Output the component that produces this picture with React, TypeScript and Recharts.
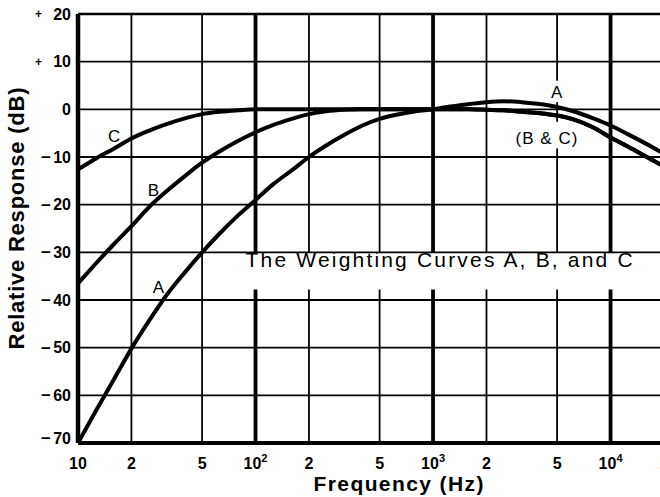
import React from 'react';
import { ComposedChart, Line, XAxis, YAxis, ReferenceLine, ReferenceDot } from 'recharts';

// Third-octave centre frequencies (Hz)
const frequencies = [
  10, 12.5, 16, 20, 25, 31.5, 40, 50, 63, 80,
  100, 125, 160, 200, 250, 315, 400, 500, 630, 800,
  1000, 1250, 1600, 2000, 2500, 3150, 4000, 5000, 6300, 8000,
  10000, 12500, 16000, 20000,
];

// Relative response (dB) of each weighting curve
const curveA = [
  -70, -63.5, -56.5, -50.2, -44.5, -39, -34.2, -30, -26, -22.2,
  -19, -15.8, -12.8, -10, -7.6, -5.4, -3.4, -2, -1.1, -0.4,
  0, 0.6, 1.1, 1.5, 1.7, 1.5, 1.1, 0.5, -0.5, -1.9,
  -3.4, -5.2, -7.3, -9.3,
];
const curveB = [
  -36.5, -32.5, -28.2, -24.5, -20.6, -17.2, -14, -11.2, -8.8, -6.6,
  -4.8, -3.3, -2, -1, -0.4, -0.1, 0, 0, 0, 0,
  0, 0, 0, -0.1, -0.2, -0.5, -0.8, -1.3, -2.2, -3.8,
  -5.9, -7.8, -10, -12,
];
const curveC = [
  -12.6, -10.4, -8.2, -6.1, -4.5, -3.1, -1.9, -1, -0.5, -0.2,
  0, 0, 0, 0, 0, 0, 0, 0, 0, 0,
  0, 0, 0, -0.1, -0.2, -0.5, -0.8, -1.3, -2.2, -3.8,
  -5.9, -7.8, -10, -12,
];

// Axis ticks
const xTickValues = [10, 20, 50, 100, 200, 500, 1000, 2000, 5000, 10000, 20000];
const xTickText = ['10', '2', '5', '10', '2', '5', '10', '2', '5', '10', '2'];
const xTickSup = ['', '', '', '2', '', '', '3', '', '', '4', ''];
const yTickValues = [-70, -60, -50, -40, -30, -20, -10, 0, 10, 20];

// Grid
const gridDb = [-60, -50, -40, -30, -20, -10, 0, 10];
const minorFreqs = [20, 50, 200, 500, 2000, 5000, 20000];
const decadeFreqs = [100, 1000, 10000];

// Curve tags
const tagText = ['C', 'B', 'A', 'A', '(B & C)'];
const tagFreq = [16, 26.6, 28.4, 4966, 4356];
const tagDb = [-5.6, -16.9, -37.3, 3.6, -6.0];

const caption = 'The Weighting Curves A, B, and C';
const captionFreq = 1082;
const captionDb = -31.6;

const rows = frequencies.map((f, i) => ({ f, a: curveA[i], b: curveB[i], c: curveC[i] }));

const FONT = '"Liberation Sans", Arial, Helvetica, sans-serif';

// vertical extents (dB) of each vertical grid line, leaving room for the caption and tags
function spansFor(f: number): [number, number][] {
  if (f < 100) return [[20, -70]];
  if (f === 5000) return [[20, 6], [1.5, -2.6], [-8.2, -30], [-37.8, -70]];
  return [[20, -30], [-37.8, -70]];
}

function FreqTick(props: any) {
  const { x, y, index } = props;
  const sup = xTickSup[index];
  return (
    <text x={x} y={y + 24} textAnchor="middle" fontFamily={FONT} fontWeight="bold" fontSize={16} fill="#000">
      <tspan>{xTickText[index]}</tspan>
      {sup ? <tspan fontSize={11} dy={-7}>{sup}</tspan> : null}
    </text>
  );
}

function DbTick(props: any) {
  const { x, y, payload } = props;
  const v = payload.value as number;
  const yy = v === -70 ? y - 5 : y;
  return (
    <g fontFamily={FONT} fontWeight="bold" fill="#000">
      {v > 0 ? (
        <text x={x - 37.5} y={yy} dy="0.35em" textAnchor="middle" fontSize={12}>+</text>
      ) : null}
      {v < 0 ? (
        <text x={x - 30} y={yy} dy="0.35em" textAnchor="middle" fontSize={17}>−</text>
      ) : null}
      <text x={x - 5} y={yy} dy="0.35em" textAnchor="end" fontSize={16}>{String(Math.abs(v))}</text>
    </g>
  );
}

function XTitle(props: any) {
  const vb = props.viewBox;
  return (
    <text x={vb.x + 320.5} y={vb.y + 48} textAnchor="middle" fontFamily={FONT} fontWeight="bold"
      fontSize={21} fill="#000" textLength={170} lengthAdjust="spacing">
      Frequency (Hz)
    </text>
  );
}

function YTitle(props: any) {
  const vb = props.viewBox;
  const cx = vb.x + 16;
  const cy = vb.y + 204.5;
  return (
    <text x={cx} y={cy} dy="0.35em" textAnchor="middle" fontFamily={FONT} fontWeight="bold"
      fontSize={22} fill="#000" transform={`rotate(-90 ${cx} ${cy})`} textLength={262} lengthAdjust="spacing">
      Relative Response (dB)
    </text>
  );
}

function Tag(props: any) {
  const vb = props.viewBox || { x: 0, y: 0, width: 0, height: 0 };
  const cx = vb.x + (vb.width || 0) / 2;
  const cy = vb.y + (vb.height || 0) / 2;
  return (
    <text x={cx} y={cy} dy="0.35em" textAnchor="middle" fontFamily={FONT} fontSize={props.size}
      fill="#000" textLength={props.span} lengthAdjust="spacing">
      {props.text}
    </text>
  );
}

export default function App() {
  return (
    <div style={{ position: 'absolute', left: 0, top: 0, width: 660, height: 497, overflow: 'hidden', background: '#fff' }}>
      <ComposedChart width={700} height={497} data={rows} margin={{ top: 14, right: 36, bottom: 0, left: 0 }}>
        <XAxis
          dataKey="f"
          type="number"
          scale="log"
          domain={[10, 20000]}
          ticks={xTickValues}
          interval={0}
          tick={<FreqTick />}
          tickLine={false}
          tickSize={0}
          axisLine={{ stroke: '#000', strokeWidth: 4 }}
          height={54}
          allowDataOverflow
          label={<XTitle />}
        />
        <YAxis
          type="number"
          domain={[-70, 20]}
          ticks={yTickValues}
          interval={0}
          tick={<DbTick />}
          tickLine={false}
          tickSize={0}
          axisLine={{ stroke: '#000', strokeWidth: 4.5 }}
          width={78}
          allowDataOverflow
          label={<YTitle />}
        />

        {gridDb.map((d) => (
          <ReferenceLine key={`h${d}`} y={d} stroke="#000" strokeWidth={1.8} />
        ))}
        <ReferenceLine y={20} stroke="#000" strokeWidth={2.6} />

        {minorFreqs.concat(decadeFreqs).flatMap((f) =>
          spansFor(f).map(([top, bottom], k) => (
            <ReferenceLine
              key={`v${f}-${k}`}
              segment={[{ x: f, y: top }, { x: f, y: bottom }]}
              stroke="#000"
              strokeWidth={decadeFreqs.includes(f) ? 3.8 : 1.8}
            />
          ))
        )}

        <Line type="monotone" dataKey="c" stroke="#000" strokeWidth={4} dot={false} isAnimationActive={false} />
        <Line type="monotone" dataKey="b" stroke="#000" strokeWidth={4} dot={false} isAnimationActive={false} />
        <Line type="monotone" dataKey="a" stroke="#000" strokeWidth={4} dot={false} isAnimationActive={false} />

        {tagText.map((t, i) => (
          <ReferenceDot
            key={`tag${i}`}
            x={tagFreq[i]}
            y={tagDb[i]}
            r={0}
            fill="none"
            stroke="none"
            label={<Tag text={t} size={17} span={t.length > 1 ? 62 : undefined} />}
          />
        ))}
        <ReferenceDot
          x={captionFreq}
          y={captionDb}
          r={0}
          fill="none"
          stroke="none"
          label={<Tag text={caption} size={21} span={387} />}
        />
      </ComposedChart>
    </div>
  );
}
